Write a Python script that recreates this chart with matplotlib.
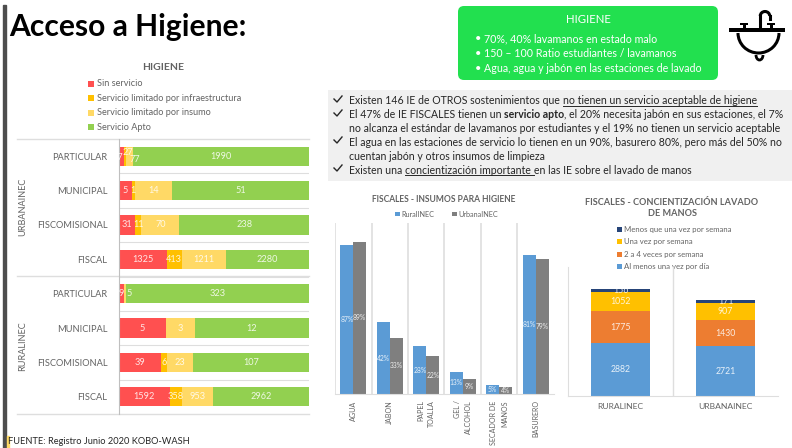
import matplotlib
matplotlib.use('Agg')
import matplotlib.pyplot as plt
from matplotlib.patches import FancyBboxPatch, Rectangle, Arc

plt.rcParams['font.family'] = ['Lato', 'DejaVu Sans']

W, H = 792, 448

# Higiene por sostenimiento
categorias = ['PARTICULAR', 'MUNICIPAL', 'FISCOMISIONAL', 'FISCAL'] * 2
grupos = ['URBANAINEC', 'RURALINEC']
servicios = ['Sin servicio', 'Servicio limitado por infraestructura',
             'Servicio limitado por insumo', 'Servicio Apto']
sin_servicio = [57, 5, 31, 1325, 9, 5, 39, 1592]
limitado_infra = [27, 1, 11, 413, 0, 0, 6, 358]
limitado_insumo = [77, 14, 70, 1211, 5, 3, 23, 953]
apto = [1990, 51, 238, 2280, 323, 12, 107, 2962]
colores_serv = ['#ff5050', '#ffc000', '#ffd966', '#92d050']

# Fiscales - insumos
insumos = ['AGUA', 'JABON', 'PAPEL\nTOALLA', 'GEL /\nALCOHOL', 'SECADOR DE\nMANOS', 'BASURERO']
insumos_rural = [87, 42, 28, 13, 5, 81]
insumos_urbana = [89, 33, 22, 9, 4, 79]

# Fiscales - concientizacion
zonas = ['RURALINEC', 'URBANAINEC']
frecuencias = ['Al menos una vez por día', '2 a 4 veces por semana',
               'Una vez por semana', 'Menos que una vez por semana']
al_dia = [2882, 2721]
veces_2a4 = [1775, 1430]
una_vez = [1052, 907]
menos = [156, 171]
colores_frec = ['#5b9bd5', '#ed7d31', '#ffc000', '#264478']

GRIS = '#636363'
LINEA = '#dedede'

# etiquetas chicas que en el original estan corridas: (barra, serie) -> puntos
corrimientos = {(0, 1): (2, 3), (0, 2): (4, -2.5), (4, 2): (3, 0), (0, 0): (-2, -1)}


def px_axes(x0, y0, x1, y1):
    a = fig.add_axes([x0 / W, 1 - y1 / H, (x1 - x0) / W, (y1 - y0) / H])
    a.patch.set_alpha(0)
    return a


def runs(x, y, partes, size=7.6):
    # texto con negrita y subrayado en la misma linea
    for txt, bold, sub in partes:
        t = bg.text(x, y, txt, fontsize=size, color='#262626', va='center',
                    fontweight='bold' if bold else 'normal')
        ancho = t.get_window_extent(fig.canvas.get_renderer()).width
        if sub:
            bg.plot([x, x + ancho], [y + 5, y + 5], color='#262626', lw=0.7)
        x += ancho


fig = plt.figure(figsize=(W / 100, H / 100), dpi=100)

# capa de fondo en pixeles
bg = fig.add_axes([0, 0, 1, 1])
bg.set_xlim(0, W)
bg.set_ylim(H, 0)
bg.axis('off')

bg.text(9, 27, 'Acceso a Higiene:', fontsize=21.6, fontweight='bold', color='black', va='center')
bg.add_patch(Rectangle((3, 5), 3, 443, color='#4d4d4d'))
bg.add_patch(Rectangle((7, 436), 2, 12, color='#ffd966'))
bg.text(8, 442, 'FUENTE: Registro Junio 2020 KOBO-WASH', fontsize=6.7, color='#262626', va='center')

# recuadro verde
bg.add_patch(FancyBboxPatch((461, 9), 254, 68, boxstyle='round,pad=3,rounding_size=6',
                            fc='#22e04f', ec='none'))
bg.text(588, 19.5, 'HIGIENE', fontsize=8.2, color='white', ha='center', va='center')
lineas_verde = ['70%, 40% lavamanos en estado malo', '150 – 100 Ratio estudiantes / lavamanos',
                'Agua, agua y jabón en las estaciones de lavado']
for i, txt in enumerate(lineas_verde):
    bg.text(475, 38.5 + i * 15, '•', fontsize=8, color='white', va='center')
    bg.text(484, 38.5 + i * 15, txt, fontsize=7.7, color='white', va='center')

# lavamanos
bg.add_patch(Rectangle((729, 28), 56, 4.5, fc='black', ec='none'))
bg.add_patch(Arc((758.5, 33), 41, 40, theta1=0, theta2=180, color='black', lw=2.2))
bg.add_patch(Arc((759.5, 55), 7, 10, theta1=0, theta2=180, color='black', lw=2))
bg.plot([760, 760], [28, 16], color='black', lw=2.2)
bg.add_patch(Arc((765, 16), 9.5, 9, theta1=180, theta2=360, color='black', lw=2.2))
bg.plot([769.7, 769.7], [16, 19], color='black', lw=2.2)
for xm in (744, 771):
    bg.add_patch(Rectangle((xm - 4, 23.5), 8, 2, fc='black', ec='none'))
    bg.add_patch(Rectangle((xm - 1.5, 24), 3, 4, fc='black', ec='none'))

# recuadro gris
bg.add_patch(Rectangle((328, 90), 464, 91, fc='#f0f0f0', ec='none'))
for yc in (100, 114, 141, 169):
    bg.plot([334, 337, 342], [yc - 1, yc + 2, yc - 4], color='#262626', lw=1)
runs(349, 101, [('Existen 146 IE de OTROS sostenimientos que ', False, False),
                ('no tienen un servicio aceptable de higiene', False, True)])
runs(349, 115, [('El 47% de IE FISCALES tienen un ', False, False), ('servicio apto', True, False),
                (', el 20% necesita jabón en sus estaciones, el 7%', False, False)])
runs(349, 129, [('no alcanza el estándar de lavamanos por estudiantes y el 19% no tienen un servicio aceptable', False, False)])
runs(349, 142, [('El agua en las estaciones de servicio lo tienen en un 90%, basurero 80%, pero más del 50% no', False, False)])
runs(349, 156, [('cuentan jabón y otros insumos de limpieza', False, False)])
runs(349, 170, [('Existen una ', False, False), ('concientización importante ', False, True),
                ('en las IE sobre el lavado de manos', False, False)])

# ---- grafico izquierdo ----
bg.text(163, 67, 'HIGIENE', fontsize=7.5, fontweight='bold', color=GRIS, ha='center', va='center')
for i, (nom, col) in enumerate(zip(servicios, colores_serv)):
    yl = 84 + i * 14.4
    bg.add_patch(Rectangle((88, yl - 3), 6, 6, fc=col, ec='none'))
    bg.text(97, yl, nom, fontsize=6.6, color=GRIS, va='center')
for yl in (139, 276, 414):
    bg.plot([17, 309], [yl, yl], color=LINEA, lw=1)
bg.text(23, 207, grupos[0], fontsize=6.6, color=GRIS, rotation=90, ha='center', va='center')
bg.text(23, 346, grupos[1], fontsize=6.6, color=GRIS, rotation=90, ha='center', va='center')

ax = px_axes(118.5, 139, 309, 414)
pos = list(range(len(categorias)))
izq = [0.0] * len(pos)
series = [sin_servicio, limitado_infra, limitado_insumo, apto]
for s, (serie, col) in enumerate(zip(series, colores_serv)):
    anchos = []
    for i in pos:
        total = sin_servicio[i] + limitado_infra[i] + limitado_insumo[i] + apto[i]
        anchos.append(serie[i] / total)
    ax.barh(pos, anchos, left=izq, height=0.56, color=col)
    for i in pos:
        if serie[i] > 0:
            ax.annotate(str(serie[i]), (izq[i] + anchos[i] / 2, i),
                        xytext=corrimientos.get((i, s), (0, 0)), textcoords='offset points',
                        fontsize=6.6, color='white', alpha=0.85, ha='center', va='center')
    izq = [a + b for a, b in zip(izq, anchos)]
ax.set_xlim(0, 1)
ax.set_ylim(7.5, -0.5)
ax.set_yticks(pos)
ax.set_yticklabels(categorias, fontsize=6.7, color=GRIS)
ax.set_xticks([])
ax.set_yticks([p + 0.5 for p in pos[:-1]], minor=True)
ax.grid(which='minor', axis='y', color=LINEA, lw=0.8)
ax.set_axisbelow(True)
ax.tick_params(axis='y', which='both', length=0, pad=8)
for lado in ['top', 'right', 'bottom']:
    ax.spines[lado].set_visible(False)
ax.spines['left'].set_color('#bfbfbf')

# ---- insumos ----
bg.text(444, 199, 'FISCALES - INSUMOS PARA HIGIENE', fontsize=6.15, fontweight='bold', color=GRIS,
        ha='center', va='center')
bg.add_patch(Rectangle((395, 212), 5, 4.5, fc='#5b9bd5', ec='none'))
bg.text(401, 214.5, 'RuralINEC', fontsize=5.2, color=GRIS, va='center')
bg.add_patch(Rectangle((452, 212), 5, 4.5, fc='#7f7f7f', ec='none'))
bg.text(458, 214.5, 'UrbanaINEC', fontsize=5.2, color=GRIS, va='center')

ax2 = px_axes(335, 223, 554, 394)
x = list(range(len(insumos)))
ancho = 0.356
b1 = ax2.bar([v - ancho / 2 for v in x], insumos_rural, ancho, color='#5b9bd5')
b2 = ax2.bar([v + ancho / 2 for v in x], insumos_urbana, ancho, color='#7f7f7f')
for barras in (b1, b2):
    ax2.bar_label(barras, fmt='%d%%', label_type='center', fontsize=4.9, color='white', alpha=0.85)
ax2.set_xlim(-0.5, 5.5)
ax2.set_ylim(0, 100)
ax2.set_yticks([])
ax2.set_xticks(x)
ax2.set_xticklabels([])
for v, nom in zip(x, insumos):
    renglones = nom.split('\n')
    for r, txt in enumerate(renglones):
        dx = (r - (len(renglones) - 1) / 2) * 7.8
        ax2.annotate(txt, (v, 0), xytext=(dx, -4.5), textcoords='offset points', rotation=90,
                     ha='center', va='top', fontsize=5.1, color=GRIS, annotation_clip=False)
ax2.set_xticks([v + 0.5 for v in x[:-1]] + [-0.5], minor=True)
ax2.grid(which='minor', axis='x', color=LINEA, lw=1.2)
ax2.set_axisbelow(True)
ax2.tick_params(axis='x', which='both', length=0)
for lado in ['top', 'right', 'left']:
    ax2.spines[lado].set_visible(False)
ax2.spines['bottom'].set_color(LINEA)

# ---- concientizacion ----
bg.text(672, 208, 'FISCALES - CONCIENTIZACIÓN LAVADO\nDE MANOS', fontsize=6.6, fontweight='bold',
        color=GRIS, ha='center', va='center', linespacing=1.35)
for i, (nom, col) in enumerate(zip(frecuencias[::-1], colores_frec[::-1])):
    yl = 229.5 + i * 12.4
    bg.add_patch(Rectangle((617, yl - 2.5), 5, 5, fc=col, ec='none'))
    bg.text(624, yl, nom, fontsize=5.6, color=GRIS, va='center')

ax3 = px_axes(568, 267, 778, 396)
base = [0, 0]
for serie, col in zip([al_dia, veces_2a4, una_vez, menos], colores_frec):
    b = ax3.bar(zonas, serie, 0.56, bottom=base, color=col)
    ax3.bar_label(b, label_type='center', fontsize=6.3, color='white', alpha=0.85)
    base = [a + c for a, c in zip(base, serie)]
ax3.set_xlim(-0.5, 1.5)
ax3.set_ylim(0, 7050)
ax3.set_yticks([])
ax3.tick_params(axis='x', length=0, pad=5, labelsize=6.1, labelcolor=GRIS)
ax3.axvline(0.5, color=LINEA, lw=1, zorder=0)
for lado in ['top', 'right']:
    ax3.spines[lado].set_visible(False)
for lado in ['left', 'bottom']:
    ax3.spines[lado].set_color(LINEA)

fig.savefig('out.png', dpi=100)
